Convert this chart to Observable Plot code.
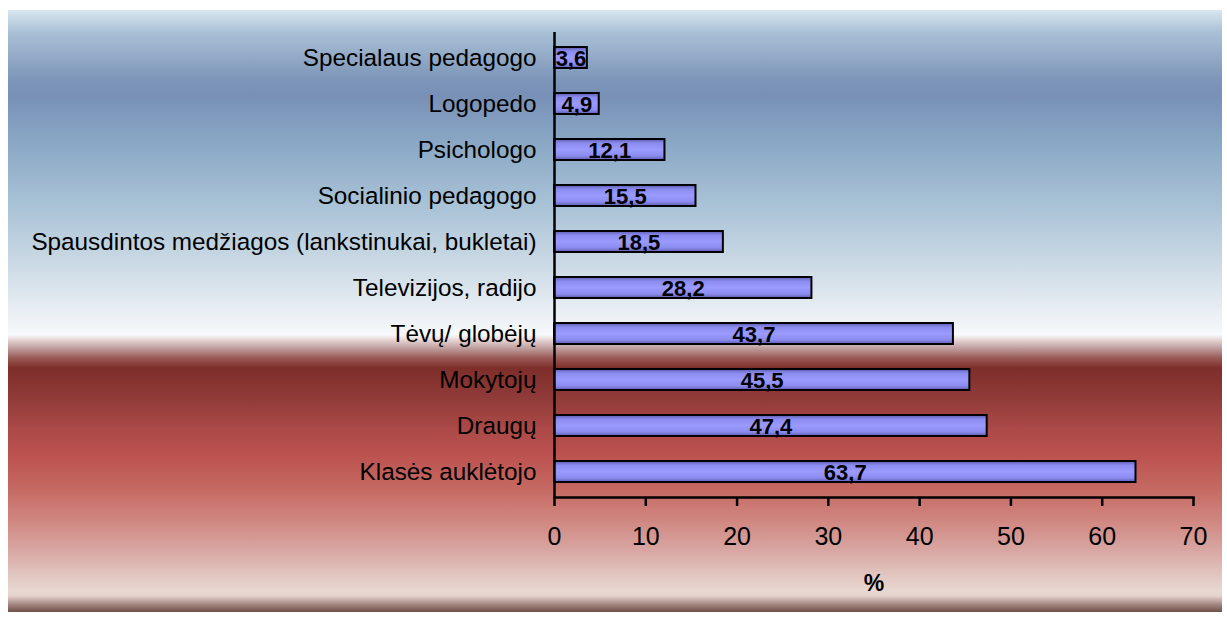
<!DOCTYPE html>
<html>
<head>
<meta charset="utf-8">
<script src="https://cdn.jsdelivr.net/npm/d3@7"></script>
<script src="https://cdn.jsdelivr.net/npm/@observablehq/plot@0.6"></script>
<style>
  html, body { margin: 0; padding: 0; background: #ffffff; }
  #wrap { position: relative; width: 1227px; height: 622px; overflow: hidden; }
  #bg {
    position: absolute; left: 8px; top: 10px; width: 1214px; height: 602px;
    background: linear-gradient(to bottom,
      #d8e7ef 0px, #a9c1d6 22px, #7d95b8 70px, #7890b6 85px, #88a6c4 130px,
      #a6c0d5 190px, #c9d8e4 250px, #e8eef3 300px, #f7f9fb 325px,
      #e6d4d4 330px, #c0a0a0 338px, #9a5a56 348px, #7e2e2a 358px,
      #923c3a 390px, #ac4a48 420px, #bc5250 445px, #c66a64 480px,
      #d08680 510px, #d8a6a2 540px, #e2c6c0 565px, #e8d8d2 582px,
      #e4d2cc 586px, #a88a84 594px, #6e5048 602px);
  }
  #chart { position: absolute; left: 0; top: 0; }
  #chart svg { background: transparent !important; overflow: visible; }
</style>
</head>
<body>
<div id="wrap"><div id="bg"></div><div id="chart"></div></div>
<script>
const categories = [
  "Specialaus pedagogo",
  "Logopedo",
  "Psichologo",
  "Socialinio pedagogo",
  "Spausdintos medžiagos (lankstinukai, bukletai)",
  "Televizijos, radijo",
  "Tėvų/ globėjų",
  "Mokytojų",
  "Draugų",
  "Klasės auklėtojo"
];
const values = [3.6, 4.9, 12.1, 15.5, 18.5, 28.2, 43.7, 45.5, 47.4, 63.7];
const xTicks = [0, 10, 20, 30, 40, 50, 60, 70];
const axisTitle = "%";

const data = categories.map((c, i) => ({category: c, value: values[i]}));
const fmt = v => v.toFixed(1).replace(".", ",");

const defs = () => {
  const g = d3.create("svg:defs");
  const lg = g.append("linearGradient").attr("id", "barGrad")
    .attr("x1", 0).attr("y1", 0).attr("x2", 0).attr("y2", 1);
  [["0%", "#5c5cae"], ["20%", "#8c8cf0"], ["50%", "#9a9aff"], ["80%", "#8c8cf0"], ["100%", "#5c5cae"]]
    .forEach(([o, c]) => lg.append("stop").attr("offset", o).attr("stop-color", c));
  return g.node();
};

const plot = Plot.plot({
  width: 1227,
  height: 622,
  marginLeft: 554,
  marginRight: 34,
  marginTop: 32,
  marginBottom: 125,
  style: {background: "transparent", fontFamily: "Liberation Sans, Arial, sans-serif", color: "#000"},
  x: {domain: [0, 70]},
  y: {domain: categories, paddingInner: 0.55, paddingOuter: 0.275},
  marks: [
    defs,
    Plot.barX(data, {y: "category", x: "value", fill: "url(#barGrad)", stroke: "#000", strokeWidth: 2}),
    Plot.text(data, {y: "category", x: d => d.value / 2, text: d => fmt(d.value),
      fontWeight: "bold", fontSize: 22, fill: "#000", lineAnchor: "middle", dy: 1}),
    Plot.ruleX([0], {stroke: "#000", strokeWidth: 2.5}),
    Plot.frame({anchor: "bottom", stroke: "#000", strokeWidth: 2.5}),
    Plot.axisY({tickSize: 0, tickPadding: 18, fontSize: 24.3, label: null}),
    Plot.axisX({ticks: xTicks, tickSize: 9, tickPadding: 21, fontSize: 25, strokeWidth: 2.5, label: null}),
    Plot.text([axisTitle], {frameAnchor: "bottom", dy: 86, fontSize: 23, fontWeight: "bold", fill: "#000", lineAnchor: "middle"})
  ]
});
document.getElementById("chart").appendChild(plot);
</script>
</body>
</html>
